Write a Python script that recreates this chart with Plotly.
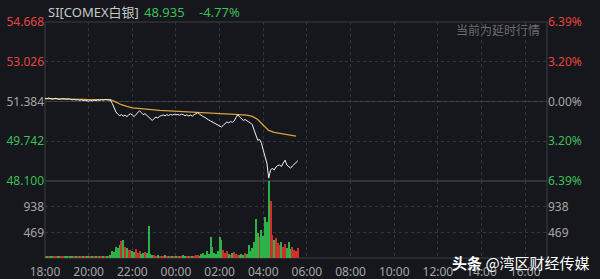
import plotly.graph_objects as go
import pandas as pd

# ---------------- data ----------------
ref_price = 51.384
price_ticks = [54.668, 53.026, 51.384, 49.742, 48.100]
pct_labels = ["6.39%", "3.20%", "0.00%", "3.20%", "6.39%"]
vol_ticks = [469, 938]
vol_top = 1407
x_tick_labels = ["18:00", "20:00", "22:00", "00:00", "02:00", "04:00", "06:00",
                 "08:00", "10:00", "12:00", "14:00", "16:00"]

# 5-minute price samples from 18:00 to 05:35
price = [
    51.52, 51.50, 51.53, 51.51, 51.48, 51.50, 51.52, 51.49, 51.47, 51.50, 51.51, 51.49,
    51.48, 51.50, 51.47, 51.45, 51.47, 51.44, 51.46, 51.43, 51.45, 51.42, 51.44, 51.41,
    51.40, 51.43, 51.41, 51.44, 51.42, 51.45, 51.43, 51.46, 51.44, 51.47, 51.45, 51.46,
    51.44, 51.30, 51.12, 50.95, 50.86, 50.80, 50.84, 50.78, 50.82, 50.76, 50.83, 50.88,
    50.82, 50.76, 50.85, 50.95, 51.00, 50.92, 50.84, 50.88, 50.80, 50.72, 50.66, 50.60,
    50.68, 50.74, 50.70, 50.78, 50.80, 50.83, 50.79, 50.84, 50.81, 50.85, 50.82, 50.86,
    50.83, 50.85, 50.82, 50.86, 50.84, 50.80, 50.83, 50.79, 50.82, 50.78, 50.84, 50.88,
    50.92, 50.86, 50.80, 50.76, 50.72, 50.66, 50.62, 50.58, 50.54, 50.50, 50.46, 50.42,
    50.38, 50.33, 50.40, 50.48, 50.54, 50.50, 50.56, 50.52, 50.58, 50.72, 50.84, 50.75,
    50.66, 50.60, 50.64, 50.58, 50.54, 50.50, 50.42, 50.20, 49.99, 49.78, 49.82, 49.66,
    49.37, 49.08, 48.84, 48.22, 48.55, 48.63, 48.55, 48.68, 48.74, 48.76, 48.70, 48.84,
    48.96, 48.76, 48.70, 48.63, 48.72, 48.80, 48.88, 48.935,
]

# 15-minute average-price samples from 18:00 to 05:30
avg_price = [
    51.50, 51.50, 51.49, 51.49, 51.48, 51.48, 51.47, 51.47, 51.46, 51.46, 51.46, 51.46,
    51.46, 51.36, 51.25, 51.18, 51.12, 51.10, 51.07, 51.05, 51.04, 51.02, 51.01, 51.00,
    50.98, 50.97, 50.97, 50.96, 50.95, 50.94, 50.93, 50.92, 50.90, 50.87, 50.86, 50.85,
    50.84, 50.82, 50.77, 50.64, 50.40, 50.19, 50.11, 50.07, 50.03, 49.99, 49.95,
]

# 5-minute volume from 18:00 to 05:35
volume = [
    40, 25, 30, 20, 35, 25, 30, 20, 25, 30, 20, 25,
    30, 20, 25, 35, 20, 25, 30, 20, 25, 20, 30, 25,
    25, 30, 20, 25, 35, 30, 25, 20, 30, 40, 35, 30,
    50, 120, 110, 210, 180, 240, 310, 330, 200, 180, 140, 150,
    130, 110, 170, 90, 120, 80, 100, 110, 90, 580, 70, 60,
    50, 40, 60, 35, 45, 30, 50, 40, 35, 45, 30, 40,
    35, 45, 30, 40, 50, 35, 40, 30, 45, 35, 40, 50,
    60, 45, 70, 90, 60, 120, 80, 390, 210, 100, 80, 120,
    390, 330, 150, 90, 120, 70, 60, 90, 110, 70, 60, 50,
    80, 60, 100, 70, 240, 120, 180, 300, 708, 450, 380, 510,
    400, 750, 660, 1450, 1050, 420, 330, 360, 280, 240, 300, 200,
    250, 180, 300, 160, 210, 140, 120, 190,
]

# ---------------- styling ----------------
BG = "#15171c"
GRID = "#33363d"
BORDER = "#3b3e45"
RED = "#e5453f"
GREEN = "#3cbf55"
GRAY = "#a6a6a6"
FONT = "Noto Sans, Noto Sans CJK SC, sans-serif"

times = pd.date_range("2025-10-21 18:00", periods=len(price), freq="5min")
avg_times = pd.date_range("2025-10-21 18:00", periods=len(avg_price), freq="15min")
tick_times = pd.date_range("2025-10-21 18:00", periods=len(x_tick_labels), freq="2h")
x_range = [pd.Timestamp("2025-10-21 18:00"), pd.Timestamp("2025-10-22 17:00")]

# bar colours follow price direction (red = up, green = down)
bar_colors = []
for i, p in enumerate(price):
    prev = price[i - 1] if i > 0 else ref_price
    bar_colors.append("#cf302d" if p >= prev else "#2db247")

def col_for(v):
    if v > ref_price + 1e-9:
        return RED
    if v < ref_price - 1e-9:
        return GREEN
    return GRAY

left_text = [f"<span style='color:{col_for(v)}'>{v:.3f}</span>" for v in price_ticks]
right_text = [f"<span style='color:{col_for(v)}'>{t}</span>" for v, t in zip(price_ticks, pct_labels)]
change_pct = (price[-1] - ref_price) / ref_price * 100

fig = go.Figure()
fig.add_trace(go.Bar(x=times, y=volume, marker=dict(color=bar_colors, line_width=0),
                     width=170000, yaxis="y2", xaxis="x", cliponaxis=False, showlegend=False))
fig.add_trace(go.Scatter(x=avg_times, y=avg_price, mode="lines",
                         line=dict(color="#d9a23c", width=1.3), yaxis="y", showlegend=False))
fig.add_trace(go.Scatter(x=times, y=price, mode="lines",
                         line=dict(color="#f2f2f2", width=1), yaxis="y", showlegend=False))
# anchors for right-hand axes
fig.add_trace(go.Scatter(x=[times[0]], y=[ref_price], mode="lines", opacity=0,
                         yaxis="y3", showlegend=False, hoverinfo="skip"))
fig.add_trace(go.Scatter(x=[times[0]], y=[0], mode="lines", opacity=0,
                         yaxis="y4", showlegend=False, hoverinfo="skip"))

split = (258 - 181) / 236.0

fig.update_layout(
    width=600, height=279,
    margin=dict(l=45, r=53, t=22, b=21),
    paper_bgcolor=BG, plot_bgcolor=BG,
    font=dict(family=FONT, size=12, color=GRAY),
    bargap=0,
    xaxis=dict(type="date", range=x_range, anchor="y2", tickvals=tick_times,
               ticktext=x_tick_labels, showgrid=True, gridcolor=GRID, griddash="dot",
               gridwidth=1, zeroline=False, showline=False, ticks="", automargin=False,
               ticklabelstandoff=5, tickfont=dict(size=12, color=GRAY)),
    yaxis=dict(domain=[split, 1], range=[price_ticks[-1], price_ticks[0]], anchor="x",
               tickvals=price_ticks, ticktext=left_text, showgrid=True, gridcolor=GRID,
               griddash="dot", zeroline=False, ticks="", automargin=False,
               tickfont=dict(size=12)),
    yaxis3=dict(overlaying="y", side="right", range=[price_ticks[-1], price_ticks[0]],
                tickvals=price_ticks, ticktext=right_text, showgrid=False, zeroline=False,
                ticks="", automargin=False, tickfont=dict(size=12), anchor="x"),
    yaxis2=dict(domain=[0, split], range=[0, vol_top], anchor="x", tickvals=vol_ticks,
                ticktext=[str(v) for v in vol_ticks], showgrid=True, gridcolor=GRID,
                griddash="dot", zeroline=False, ticks="", automargin=False,
                tickfont=dict(size=12, color=GRAY)),
    yaxis4=dict(overlaying="y2", side="right", range=[0, vol_top], tickvals=vol_ticks,
                ticktext=[str(v) for v in vol_ticks], showgrid=False, zeroline=False,
                ticks="", automargin=False, tickfont=dict(size=12, color=GRAY), anchor="x"),
    shapes=[
        dict(type="rect", xref="x domain", yref="y domain", x0=0, x1=1, y0=0, y1=1,
             line=dict(color=BORDER, width=1), layer="below"),
        dict(type="rect", xref="x domain", yref="y2 domain", x0=0, x1=1, y0=0, y1=1,
             line=dict(color=BORDER, width=1), layer="below"),
        dict(type="line", xref="x domain", yref="y", x0=0, x1=1, y0=ref_price, y1=ref_price,
             line=dict(color="#45484f", width=1), layer="below"),
    ],
    annotations=[
        dict(xref="paper", yref="paper", x=0.002, y=1.042, xanchor="left", yanchor="middle",
             text="SI[COMEX白银]", showarrow=False, font=dict(size=13, color="#c8c8c8")),
        dict(xref="paper", yref="paper", x=0.193, y=1.042, xanchor="left", yanchor="middle",
             text=f"{price[-1]:.3f}", showarrow=False, font=dict(size=13, color=GREEN)),
        dict(xref="paper", yref="paper", x=0.303, y=1.042, xanchor="left", yanchor="middle",
             text=f"{change_pct:.2f}%", showarrow=False, font=dict(size=13, color=GREEN)),
        dict(xref="paper", yref="paper", x=0.990, y=0.962, xanchor="right", yanchor="middle",
             text="当前为延时行情", showarrow=False, font=dict(size=12, color="#6c6c6c")),
        dict(xref="paper", yref="paper", x=0.806, y=-0.021, xanchor="left", yanchor="middle",
             text="<b>头条</b> @湾区财经传媒", showarrow=False,
             font=dict(size=15, color="#ffffff", family="Noto Sans CJK SC")),
    ],
)

fig.write_html("out.html")
